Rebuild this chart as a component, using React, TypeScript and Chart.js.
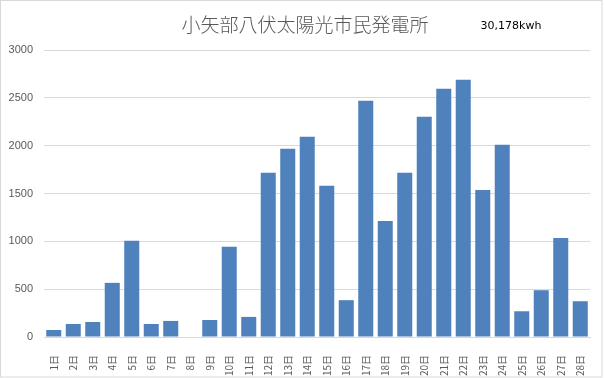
import React, { useEffect, useRef } from "react";
import { Chart, registerables } from "chart.js";

Chart.register(...registerables);

const days: string[] = [
  "1日", "2日", "3日", "4日", "5日", "6日", "7日", "8日", "9日", "10日",
  "11日", "12日", "13日", "14日", "15日", "16日", "17日", "18日", "19日", "20日",
  "21日", "22日", "23日", "24日", "25日", "26日", "27日", "28日",
];

const generation: number[] = [
  73, 136, 157, 566, 1006, 136, 168, 0, 178, 943,
  210, 1716, 1967, 2093, 1580, 385, 2470, 1213, 1716, 2302,
  2596, 2690, 1537, 2009, 269, 489, 1034, 374,
];

const titleText = "小矢部八伏太陽光市民発電所";
const totalText = "30,178kwh";

const decorPlugin = {
  id: "decor",
  beforeDraw(chart: any) {
    const ctx = chart.ctx;
    ctx.save();
    ctx.fillStyle = "#ffffff";
    ctx.fillRect(0, 0, chart.width, chart.height);
    ctx.restore();
  },
  afterDraw(chart: any) {
    const ctx = chart.ctx;
    ctx.save();
    ctx.strokeStyle = "#d9d9d9";
    ctx.lineWidth = 1;
    ctx.strokeRect(0.5, 0.5, 601.5, 376.5);
    ctx.fillStyle = "#595959";
    ctx.font = "300 19px 'Noto Sans CJK JP'";
    ctx.textAlign = "center";
    ctx.textBaseline = "middle";
    ctx.fillText(titleText, 305, 25);
    ctx.fillStyle = "#000000";
    ctx.font = "11px 'DejaVu Sans'";
    ctx.textAlign = "center";
    ctx.textBaseline = "alphabetic";
    ctx.fillText(totalText, 511, 29);
    ctx.restore();
  },
};

export default function App() {
  const ref = useRef<HTMLCanvasElement | null>(null);
  useEffect(() => {
    if (!ref.current) return;
    const chart = new Chart(ref.current, {
      type: "bar",
      data: {
        labels: days,
        datasets: [
          {
            data: generation,
            backgroundColor: "#4f81bd",
            barPercentage: 0.77,
            categoryPercentage: 1,
          },
        ],
      },
      options: {
        responsive: false,
        animation: false,
        layout: { padding: { top: 50, right: 15, left: 0, bottom: 0 } },
        plugins: { legend: { display: false }, tooltip: { enabled: false } },
        scales: {
          x: {
            grid: { display: false },
            border: { display: true, color: "#d9d9d9" },
            ticks: {
              autoSkip: false,
              maxRotation: 90,
              minRotation: 90,
              padding: 10,
              color: "#595959",
              font: { size: 10, family: "'Noto Sans CJK JP'" },
            },
            afterFit: (s: any) => {
              s.height = 41;
            },
          },
          y: {
            min: 0,
            max: 3000,
            ticks: {
              stepSize: 500,
              padding: 11,
              color: "#595959",
              font: { size: 11, family: "'Liberation Sans'" },
              callback: (v: any) => String(v),
            },
            grid: { color: "#d9d9d9", drawTicks: false },
            border: { display: false },
            afterFit: (s: any) => {
              s.width = 44;
            },
          },
        },
      },
      plugins: [decorPlugin],
    });
    return () => chart.destroy();
  }, []);
  return (
    <div style={{ position: "absolute", left: 0, top: 0, width: 605, height: 378 }}>
      <canvas ref={ref} width={605} height={378} />
    </div>
  );
}
